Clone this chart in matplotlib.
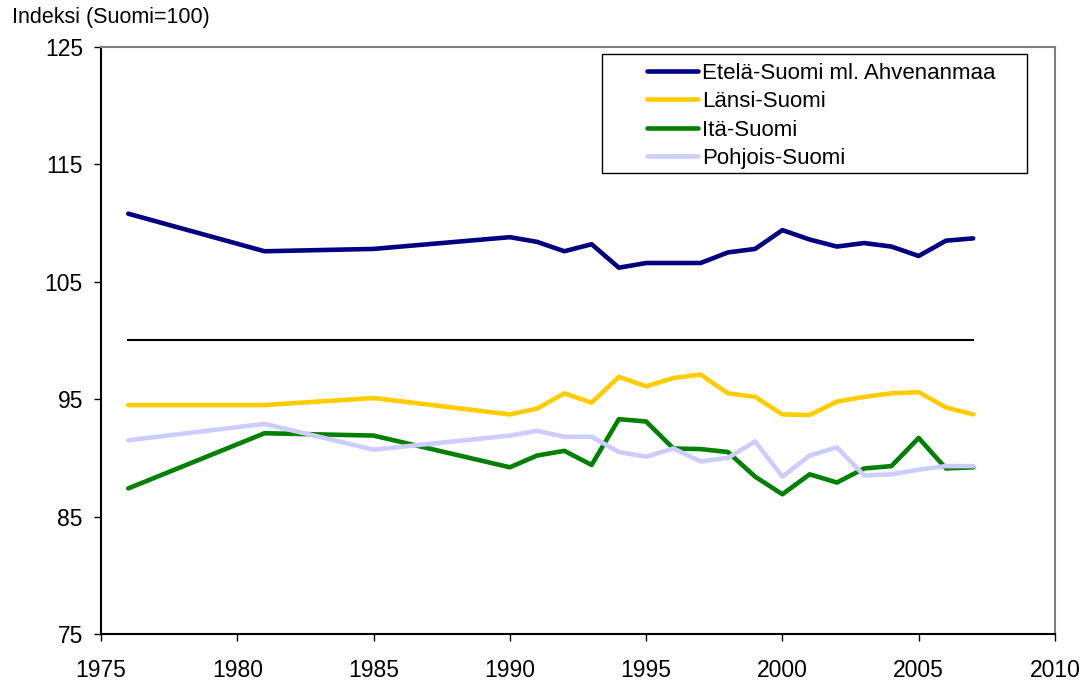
import numpy as np
import matplotlib.pyplot as plt
from matplotlib.patches import Rectangle

plt.rcParams['font.family'] = ['Liberation Sans', 'DejaVu Sans']

years = [1976, 1981, 1985, 1990, 1991, 1992, 1993, 1994, 1995, 1996, 1997, 1998,
         1999, 2000, 2001, 2002, 2003, 2004, 2005, 2006, 2007]

etela = [110.8, 107.6, 107.8, 108.8, 108.4, 107.6, 108.2, 106.2, 106.6, 106.6, 106.6,
         107.5, 107.8, 109.4, 108.6, 108.0, 108.3, 108.0, 107.2, 108.5, 108.7]
lansi = [94.5, 94.5, 95.1, 93.7, 94.2, 95.5, 94.7, 96.9, 96.1, 96.8, 97.1,
         95.5, 95.2, 93.7, 93.65, 94.8, 95.2, 95.5, 95.6, 94.3, 93.7]
ita = [87.4, 92.1, 91.9, 89.2, 90.2, 90.6, 89.4, 93.3, 93.1, 90.8, 90.75,
       90.5, 88.4, 86.9, 88.6, 87.9, 89.1, 89.3, 91.7, 89.1, 89.2]
pohjois = [91.5, 92.9, 90.7, 91.9, 92.3, 91.8, 91.8, 90.5, 90.1, 90.8, 89.7,
           90.0, 91.4, 88.4, 90.2, 90.9, 88.5, 88.6, 89.0, 89.3, 89.3]
suomi = [100] * len(years)

labels = ['Etelä-Suomi ml. Ahvenanmaa', 'Länsi-Suomi', 'Itä-Suomi', 'Pohjois-Suomi']
colors = ['#000080', '#FFCC00', '#008000', '#CCCCFF']

fig = plt.figure(figsize=(10.84, 6.82), dpi=100)
ax = fig.add_axes([0.0932, 0.0704, 0.88, 0.8607])

ax.plot(years, suomi, color='black', linewidth=1.5)
for vals, lab, c in zip([etela, lansi, ita, pohjois], labels, colors):
    ax.plot(years, vals, color=c, linewidth=3.3, label=lab, solid_capstyle='round')

ax.set_xlim(1975, 2010)
ax.set_ylim(75, 125)
ax.set_xticks(np.arange(1975, 2011, 5))
ax.set_yticks(np.arange(75, 126, 10))
ax.tick_params(labelsize=16.5, direction='out', length=5, width=1)
ax.tick_params(axis='x', pad=13)
ax.tick_params(axis='y', pad=8)

for s in ['top', 'right']:
    ax.spines[s].set_color('#808080')
    ax.spines[s].set_linewidth(1.5)
for s in ['left', 'bottom']:
    ax.spines[s].set_color('black')
    ax.spines[s].set_linewidth(1.5)

fig.text(0.011, 0.99, 'Indeksi (Suomi=100)', fontsize=15.5, va='top', ha='left')

# legend frame drawn separately so the box can be wider than the entries
ax.add_patch(Rectangle((0.525, 0.785), 0.446, 0.203, transform=ax.transAxes,
                       fill=True, facecolor='white', edgecolor='black',
                       linewidth=1.0, zorder=4))
leg = ax.legend(loc='upper left', bbox_to_anchor=(0.5723, 0.9735),
                fontsize=16, frameon=False, handlelength=2.3, handletextpad=0.18,
                labelspacing=0.34, borderpad=0, borderaxespad=0)
leg.set_zorder(5)

fig.savefig('out.png', dpi=100)
